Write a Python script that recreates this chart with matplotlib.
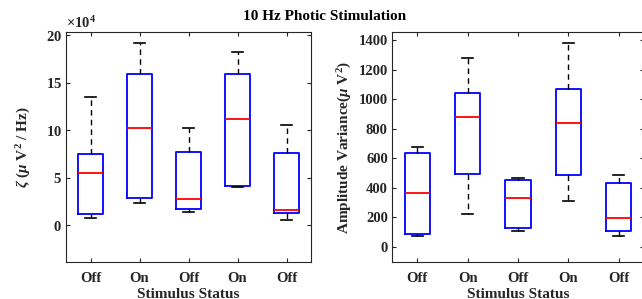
import matplotlib
matplotlib.use("Agg")
import matplotlib.pyplot as plt
from matplotlib.ticker import ScalarFormatter, MultipleLocator

plt.rcParams['font.family'] = ['Liberation Serif', 'DejaVu Serif']
plt.rcParams['font.weight'] = 'bold'
plt.rcParams['mathtext.fontset'] = 'custom'
plt.rcParams['mathtext.rm'] = 'Liberation Serif:bold'
plt.rcParams['mathtext.it'] = 'Liberation Serif:italic'
plt.rcParams['mathtext.bf'] = 'Liberation Serif:bold'

categories = ["Off", "On", "Off", "On", "Off"]

# Left panel: zeta (uV^2/Hz)
zeta_low = [7400, 23600, 14000, 39800, 5600]
zeta_q1 = [11600, 28900, 16900, 41200, 13000]
zeta_med = [55000, 102100, 27000, 111300, 15900]
zeta_q3 = [75000, 159600, 76800, 159000, 75700]
zeta_high = [134600, 191300, 102000, 182000, 105000]

# Right panel: amplitude variance (uV^2)
amp_low = [73, 224, 111, 311, 77]
amp_q1 = [86, 492, 127, 488, 107]
amp_med = [363, 882, 333, 837, 197]
amp_q3 = [633, 1041, 456, 1068, 433]
amp_high = [675, 1281, 469, 1383, 485]

AX = '#262626'

def stats(low, q1, med, q3, high):
    return [dict(whislo=a, q1=b, med=c, q3=d, whishi=e, fliers=[])
            for a, b, c, d, e in zip(low, q1, med, q3, high)]

fig = plt.figure(figsize=(6.42, 2.99), dpi=100)
ax1 = fig.add_axes([66/642, 1-262/299, 245/642, 230/299])
ax2 = fig.add_axes([392/642, 1-262/299, 252/642, 230/299])

def draw(ax, st):
    ax.bxp(st, positions=range(1, 6), widths=0.5, capwidths=0.22,
           boxprops=dict(color='#0000ff', linewidth=1.3),
           medianprops=dict(color='#ff0000', linewidth=1.3),
           whiskerprops=dict(color='black', linewidth=1.0, linestyle=(0, (4, 3))),
           capprops=dict(color='black', linewidth=1.2),
           showfliers=False)
    ax.set_xlim(0.5, 5.5)
    ax.set_xticks(range(1, 6))
    ax.set_xticklabels(categories, fontsize=10.5, fontweight='bold', color=AX)
    ax.set_xlabel("Stimulus Status", fontsize=11, fontweight='bold', color=AX, labelpad=2)
    ax.tick_params(direction='in', length=3, width=0.8, colors=AX,
                   top=True, right=True, labelsize=10.5, pad=3)
    ax.tick_params(axis='x', pad=7)
    for s in ax.spines.values():
        s.set_color(AX)
        s.set_linewidth(0.8)

draw(ax1, stats(zeta_low, zeta_q1, zeta_med, zeta_q3, zeta_high))
ax1.set_ylim(-38800, 203300)
ax1.yaxis.set_major_locator(MultipleLocator(50000))
fmt = ScalarFormatter(useMathText=True)
fmt.set_powerlimits((4, 4))
ax1.yaxis.set_major_formatter(fmt)
ax1.yaxis.get_offset_text().set_fontsize(10.5)
ax1.yaxis.get_offset_text().set_color(AX)
for lbl in ax1.get_yticklabels():
    lbl.set_fontweight('bold')
ax1.set_ylabel("$\\zeta$ ($\\mu$ V$^2$ / Hz)", fontsize=11, fontweight='bold', color=AX, labelpad=9)

draw(ax2, stats(amp_low, amp_q1, amp_med, amp_q3, amp_high))
ax2.set_ylim(-102, 1456)
ax2.set_yticks(range(0, 1401, 200))
for lbl in ax2.get_yticklabels():
    lbl.set_fontweight('bold')
ax2.set_ylabel("Amplitude Variance($\\mu$ V$^2$)", fontsize=11, fontweight='bold', color=AX, labelpad=3)

fig.text(325/642, 1-17/299, "10 Hz Photic Stimulation", ha='center', va='center',
         fontsize=11, fontweight='bold', color='black')

fig.savefig("out.png", dpi=100)
